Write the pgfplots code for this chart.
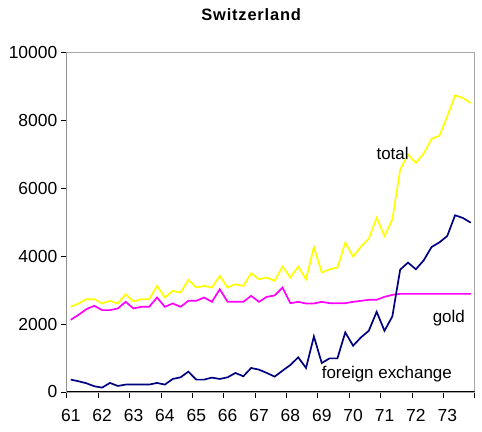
\documentclass[border=0pt]{standalone}
\usepackage{fontspec}
\setmainfont{Liberation Sans}
\newfontfamily\titlefont[LetterSpace=5]{Liberation Sans}
\usepackage{pgfplots}
\pgfplotsset{compat=1.18}
\usepackage{pgfplotstable}

\pgfplotstableread{
i total gold fx
1 2509 2127 363
2 2608 2274 314
3 2735 2441 255
4 2735 2539 167
5 2608 2412 127
6 2686 2412 265
7 2608 2461 176
8 2882 2657 216
9 2667 2461 216
10 2735 2510 216
11 2735 2510 216
12 3127 2784 265
13 2784 2510 216
14 2980 2608 382
15 2931 2510 431
16 3303 2686 598
17 3079 2686 363
18 3127 2784 363
19 3079 2657 422
20 3421 3029 382
21 3079 2657 431
22 3176 2657 559
23 3127 2657 461
24 3500 2833 706
25 3323 2657 657
26 3373 2804 559
27 3274 2843 451
28 3696 3079 627
29 3373 2617 794
30 3696 2657 1020
31 3323 2608 706
32 4274 2608 1637
33 3520 2657 853
34 3617 2617 990
35 3667 2617 990
36 4402 2617 1755
37 3990 2657 1363
38 4284 2686 1608
39 4519 2716 1804
40 5137 2716 2363
41 4598 2804 1804
42 5088 2863 2226
43 6559 2892 3607
44 7000 2892 3813
45 6755 2892 3617
46 7030 2892 3880
47 7460 2892 4274
48 7560 2892 4410
49 8127 2892 4598
50 8745 2892 5210
51 8667 2892 5130
52 8520 2892 4990
}\data

\definecolor{fxnavy}{HTML}{000080}
\definecolor{goldmag}{HTML}{FF00FF}
\definecolor{totyel}{HTML}{FFFF00}

\begin{document}
\begin{tikzpicture}
\begin{axis}[
  scale only axis,
  width=409pt, height=340pt,
  xmin=0.5, xmax=52.5, ymin=0, ymax=10000,
  xtick={0.5,4.5,...,52.5},
  xticklabels={61,62,63,64,65,66,67,68,69,70,71,72,73,},
  xticklabel style={xshift=4pt, yshift=-8pt},
  ytick={0,2000,4000,6000,8000,10000},
  tick align=outside, xtick pos=bottom, ytick pos=left,
  major tick length=6pt,
  tick style={black, line width=0.8pt},
  axis line style={gray!70, line width=0.8pt},
  scaled y ticks=false,
  /pgf/number format/1000 sep={},
  /pgf/number format/assume math mode=true,
  tick label style={font=\fontsize{17.5}{19}\selectfont},
  title={Switzerland},
  title style={at={(rel axis cs:0.452,1.095)}, anchor=center, inner sep=0pt,
    font=\titlefont\bfseries\fontsize{16.5}{18}\selectfont},
]
\draw[black, line width=1pt] (rel axis cs:0,1) -- (rel axis cs:0,0) -- (rel axis cs:1,0);
\addplot[goldmag, line width=1.7pt] table[x=i, y=gold] {\data};
\addplot[fxnavy, line width=1.7pt] table[x=i, y=fx] {\data};
\addplot[totyel, line width=1.7pt] table[x=i, y=total] {\data};
\node[font=\fontsize{17}{19}\selectfont] at (axis cs:42.03,7029) {total};
\node[font=\fontsize{17}{19}\selectfont] at (axis cs:49.2,2176) {gold};
\node[font=\fontsize{17}{19}\selectfont] at (axis cs:41.3,515) {foreign exchange};
\end{axis}
\path (current axis.south west) ++(-67pt,-40pt) rectangle ++(482pt,433pt);
\end{tikzpicture}
\end{document}
